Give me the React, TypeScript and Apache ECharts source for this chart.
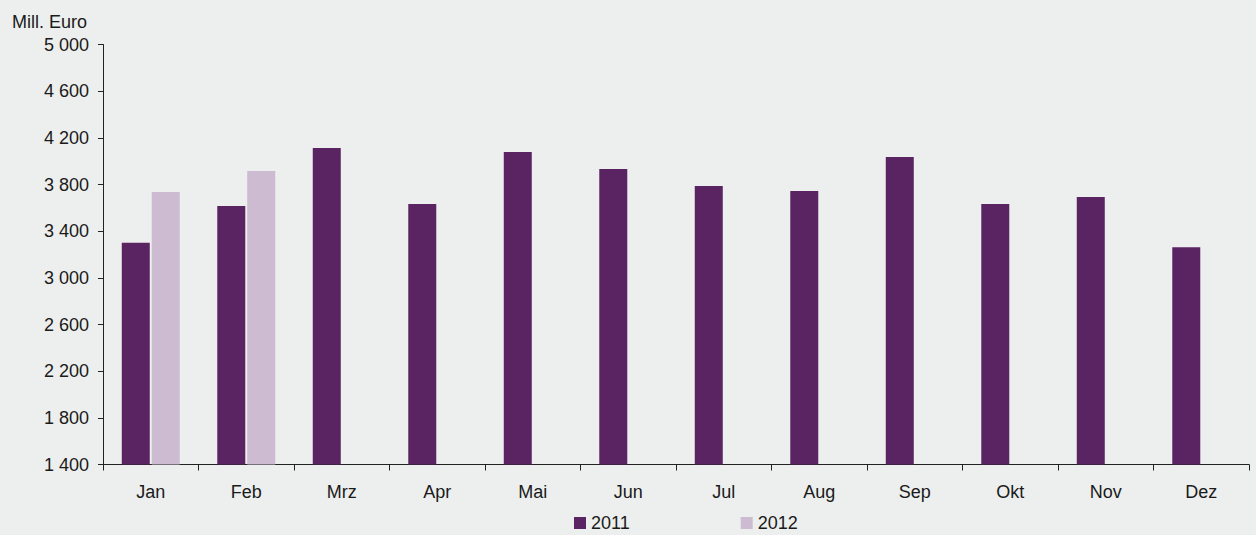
import React, { useEffect, useRef } from "react";
import * as echarts from "echarts";

const months = ["Jan", "Feb", "Mrz", "Apr", "Mai", "Jun", "Jul", "Aug", "Sep", "Okt", "Nov", "Dez"];
const values2011 = [3300, 3615, 4112, 3632, 4078, 3932, 3787, 3744, 4035, 3632, 3692, 3263];
const values2012: (number | null)[] = [3735, 3915, null, null, null, null, null, null, null, null, null, null];
const seriesNames = ["2011", "2012"];
const yUnit = "Mill. Euro";

const FONT = "'Liberation Sans', Arial, Helvetica, sans-serif";
const TEXT = "#1a1a1a";

export default function App() {
  const ref = useRef<HTMLDivElement>(null);
  useEffect(() => {
    if (!ref.current) return;
    const chart = echarts.init(ref.current, null, { renderer: "svg" });
    chart.setOption({
      animation: false,
      backgroundColor: "#edefee",
      textStyle: { fontFamily: FONT },
      grid: { left: 103, right: 7, top: 44.5, bottom: 70.5, containLabel: false },
      graphic: [
        {
          type: "text",
          left: 12,
          top: 13,
          style: { text: yUnit, font: `18px ${FONT}`, fill: TEXT },
        },
      ],
      legend: {
        left: 569,
        top: 509,
        itemWidth: 12,
        itemHeight: 12,
        itemGap: 111,
        icon: "rect",
        textStyle: { fontSize: 18, color: TEXT, fontFamily: FONT },
        data: seriesNames,
      },
      xAxis: {
        type: "category",
        data: months,
        axisLine: { lineStyle: { color: "#222", width: 1 } },
        axisTick: { show: true, length: 6, lineStyle: { color: "#222" } },
        axisLabel: { fontSize: 18, color: TEXT, margin: 18, fontFamily: FONT },
        splitLine: { show: false },
      },
      yAxis: {
        type: "value",
        min: 1400,
        max: 5000,
        interval: 400,
        axisLine: { show: true, lineStyle: { color: "#222", width: 1 } },
        axisTick: { show: true, length: 5, lineStyle: { color: "#222" } },
        axisLabel: {
          fontSize: 18,
          color: TEXT,
          margin: 14,
          fontFamily: FONT,
          formatter: (v: number) => String(v).replace(/\B(?=(\d{3})+(?!\d))/g, " "),
        },
        splitLine: { show: false },
      },
      series: [
        {
          name: seriesNames[0],
          type: "bar",
          data: values2011,
          barWidth: 28,
          barGap: "7%",
          itemStyle: { color: "#5a2361" },
        },
        {
          name: seriesNames[1],
          type: "bar",
          data: values2012,
          barWidth: 28,
          barGap: "7%",
          itemStyle: { color: "#ccbbd1" },
        },
      ],
    });
    return () => chart.dispose();
  }, []);
  return (
    <div
      ref={ref}
      style={{ position: "fixed", left: 0, top: 0, width: 1256, height: 535 }}
    />
  );
}
